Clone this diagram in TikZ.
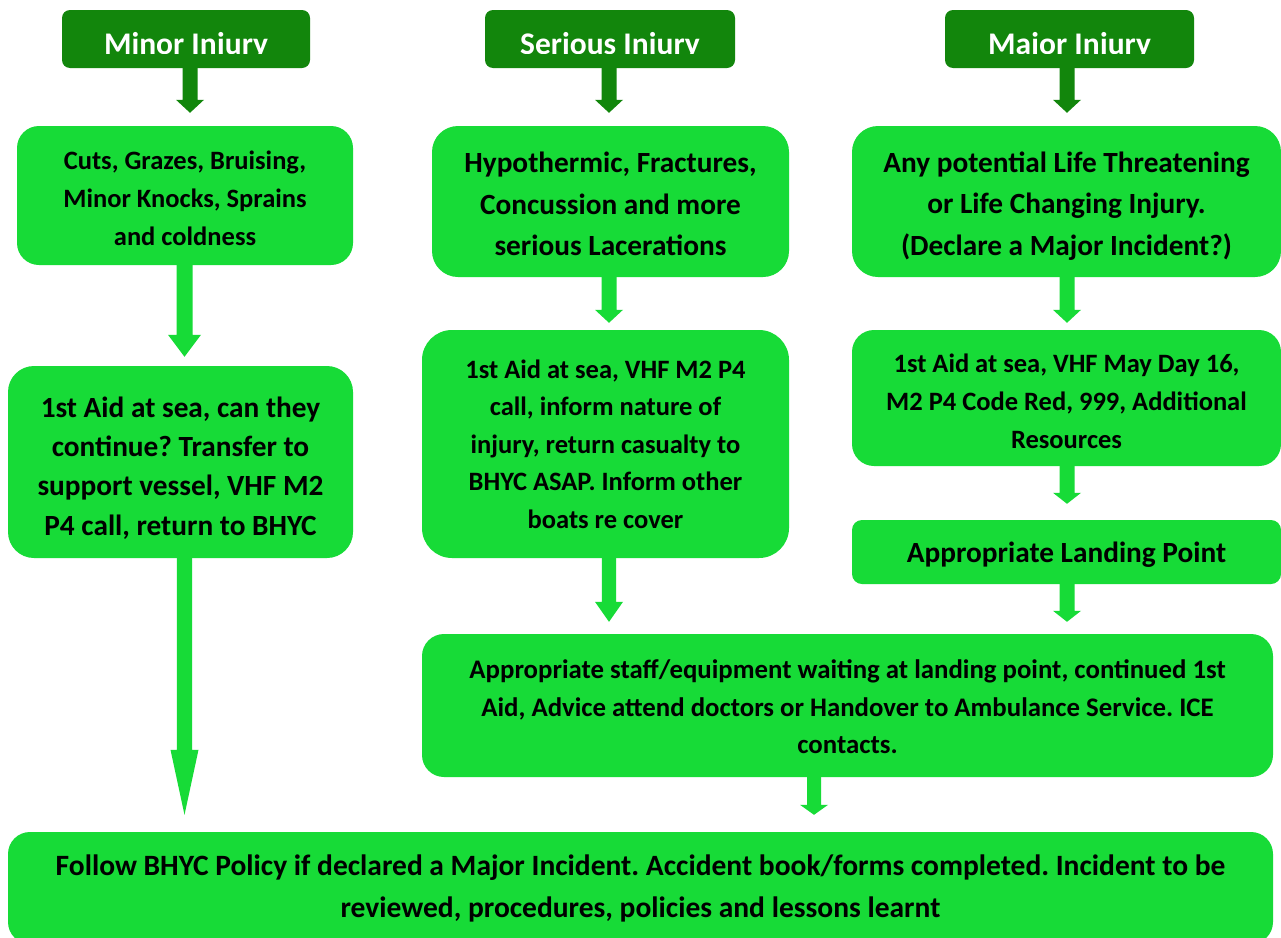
\documentclass[tikz,border=0pt]{standalone}
\usepackage{fontspec}
\setmainfont{Carlito}
\frenchspacing
\usetikzlibrary{calc}
\definecolor{darkg}{RGB}{18,134,12}
\definecolor{brightg}{RGB}{23,219,55}
\tikzset{
  hdr/.style={fill=darkg, draw=none, rounded corners=8pt, inner sep=0pt},
  hdrtext/.style={text=white, font=\fontsize{31.5}{36}\selectfont\bfseries, inner sep=0pt, anchor=base},
  gbox/.style={fill=brightg, draw=none, inner sep=0pt},
  gtext/.style={inner sep=0pt, align=center, text=black},
}
% #1 name, #2 cx, #3 cy, #4 width, #5 height, #6 radius, #7 size/leading, #8 text shift down, #9 text
\newcommand\gnode[9]{%
  \node[gbox, rounded corners=#6pt, minimum width=#4pt, minimum height=#5pt] (#1) at (#2,#3) {};
  \node[gtext, font=\fontsize#7\selectfont\bfseries] (#1t) at ($(#1.center)+(0,#8)$) {#9};
}
% #1 src, #2 tgt, #3 x, #4 gap, #5 half shaft, #6 half head, #7 head length, #8 colour
\newcommand\blockarrow[8]{%
  \coordinate (ax) at (#3,0);
  \fill[#8] let \p1=(#1.south -| ax), \p2=(#2.north -| ax) in
    (\x1-#5pt,\y1) -- (\x1-#5pt,\y2+#4pt+#7pt) -- (\x1-#6pt,\y2+#4pt+#7pt) --
    (\x1,\y2+#4pt) -- (\x1+#6pt,\y2+#4pt+#7pt) -- (\x1+#5pt,\y2+#4pt+#7pt) --
    (\x1+#5pt,\y1) -- cycle;
}
\begin{document}
\begin{tikzpicture}[x=1pt,y=-1pt]
\useasboundingbox (0,0) rectangle (1281,937);
\clip (0,0) rectangle (1281,937);
\fill[white] (0,0) rectangle (1281,937);

% headers
\node[hdr, minimum width=248pt, minimum height=58pt] (hMinor) at (186,39) {};
\node[hdr, minimum width=250pt, minimum height=58pt] (hSerious) at (610,39) {};
\node[hdr, minimum width=249pt, minimum height=58pt] (hMajor) at (1069.5,39) {};
\begin{scope}
  \clip (0,0) rectangle (1281,53.6);
  \node[hdrtext] (tMinor) at (186,54) {Minor Injury};
  \node[hdrtext] (tSerious) at (610,54) {Serious Injury};
  \node[hdrtext] (tMajor) at (1069.5,54) {Major Injury};
\end{scope}

% minor column
\gnode{m1}{185}{195.5}{336}{139}{22}{{26.5}{38}}{3}
  {Cuts, Grazes, Bruising,\\Minor Knocks, Sprains\\and coldness}
\gnode{m2}{180.5}{462}{345}{192}{26}{{29.3}{39.3}}{6}
  {1st Aid at sea, can they\\continue? Transfer to\\support vessel, VHF M2\\P4 call, return to BHYC}

% serious column
\gnode{s1}{610.5}{201.5}{357}{151}{26}{{29.3}{41.5}}{2.5}
  {Hypothermic, Fractures,\\Concussion and more\\serious Lacerations}
\gnode{s2}{605.5}{444}{367}{228}{30}{{26.5}{37.5}}{0}
  {1st Aid at sea, VHF M2 P4\\call, inform nature of\\injury, return casualty to\\BHYC ASAP. Inform other\\boats re cover}

% major column
\gnode{ma1}{1066.5}{201.5}{429}{151}{26}{{29.3}{41.5}}{4.5}
  {Any potential Life Threatening\\or Life Changing Injury.\\(Declare a Major Incident?)}
\gnode{ma2}{1066.5}{398}{429}{136}{22}{{26.5}{38}}{3}
  {1st Aid at sea, VHF May Day 16,\\M2 P4 Code Red, 999, Additional\\Resources}
\gnode{land}{1066.5}{552}{429}{64}{10}{{29.3}{36}}{3}
  {Appropriate Landing Point}

% staff and bottom
\gnode{staff}{847.5}{705.5}{851}{143}{22}{{26.8}{37.5}}{1.5}
  {Appropriate staff/equipment waiting at landing point, continued 1st\\Aid, Advice attend doctors or Handover to Ambulance Service. ICE\\contacts.}
\gnode{bottom}{640.5}{888}{1265}{112}{22}{{29.5}{42}}{0}
  {Follow BHYC Policy if declared a Major Incident. Accident book/forms completed. Incident to be\\reviewed, procedures, policies and lessons learnt}

% arrows
\blockarrow{hMinor}{m1}{190}{13}{7.5}{14}{13}{darkg}
\blockarrow{hSerious}{s1}{609}{13}{7.5}{14}{13}{darkg}
\blockarrow{hMajor}{ma1}{1067}{13}{7.5}{14}{13}{darkg}
\blockarrow{m1}{m2}{184.5}{9}{8}{16.5}{22}{brightg}
\blockarrow{m2}{bottom}{184.5}{17}{7.7}{14}{65}{brightg}
\blockarrow{s1}{s2}{609}{7}{7.5}{14}{13}{brightg}
\blockarrow{s2}{staff}{609}{12}{7.2}{14}{20}{brightg}
\blockarrow{ma1}{ma2}{1067}{7}{7.5}{14}{13}{brightg}
\blockarrow{ma2}{land}{1067}{16}{7.5}{14}{11}{brightg}
\blockarrow{land}{staff}{1067}{12}{7.5}{14}{11}{brightg}
\blockarrow{staff}{bottom}{814}{17}{7}{14}{10}{brightg}
\end{tikzpicture}
\end{document}
